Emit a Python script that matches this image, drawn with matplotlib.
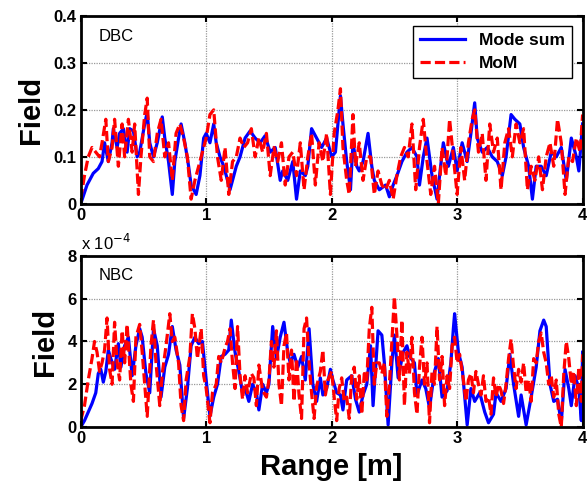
import numpy as np
import matplotlib
matplotlib.use('Agg')
import matplotlib.pyplot as plt

plt.rcParams['font.family'] = ['Liberation Sans', 'DejaVu Sans']

# DBC panel, Mode sum (blue)
dbc_ms_x = [0.00, 0.05, 0.10, 0.14, 0.17, 0.19, 0.22, 0.25, 0.26, 0.29, 0.31, 0.34, 0.37, 0.39,
            0.42, 0.45, 0.47, 0.51, 0.53, 0.55, 0.58, 0.61, 0.65, 0.67, 0.70, 0.73, 0.75, 0.78,
            0.80, 0.83, 0.86, 0.88, 0.92, 0.95, 0.98, 1.00, 1.03, 1.06, 1.08, 1.11, 1.14, 1.16,
            1.19, 1.22, 1.24, 1.27, 1.31, 1.35, 1.39, 1.43, 1.47, 1.51, 1.55, 1.59, 1.61, 1.65,
            1.69, 1.72, 1.75, 1.79, 1.81, 1.84, 1.88, 1.92, 1.96, 2.00, 2.03, 2.05, 2.07, 2.09,
            2.12, 2.15, 2.17, 2.20, 2.22, 2.25, 2.29, 2.32, 2.34, 2.38, 2.43, 2.46, 2.49, 2.52,
            2.56, 2.60, 2.64, 2.68, 2.70, 2.73, 2.76, 2.80, 2.84, 2.86, 2.89, 2.93, 2.97, 3.00,
            3.04, 3.08, 3.11, 3.14, 3.16, 3.20, 3.24, 3.28, 3.32, 3.36, 3.39, 3.43, 3.46, 3.50,
            3.53, 3.57, 3.60, 3.63, 3.67, 3.71, 3.75, 3.79, 3.83, 3.87, 3.91, 3.95, 3.97, 4.00]
dbc_ms_y = [0.000, 0.040, 0.065, 0.075, 0.090, 0.130, 0.090, 0.130, 0.160, 0.120, 0.150, 0.160,
            0.110, 0.160, 0.155, 0.100, 0.110, 0.170, 0.195, 0.130, 0.100, 0.130, 0.185, 0.140,
            0.090, 0.020, 0.090, 0.140, 0.170, 0.130, 0.080, 0.040, 0.020, 0.060, 0.140, 0.150,
            0.130, 0.170, 0.130, 0.100, 0.080, 0.060, 0.030, 0.060, 0.080, 0.100, 0.140, 0.155,
            0.140, 0.130, 0.145, 0.110, 0.120, 0.050, 0.070, 0.050, 0.090, 0.010, 0.070, 0.060,
            0.080, 0.160, 0.140, 0.120, 0.140, 0.100, 0.110, 0.170, 0.230, 0.170, 0.090, 0.030,
            0.130, 0.080, 0.070, 0.090, 0.150, 0.080, 0.050, 0.030, 0.040, 0.015, 0.040, 0.060,
            0.090, 0.110, 0.120, 0.100, 0.040, 0.100, 0.140, 0.060, 0.010, 0.060, 0.130, 0.080,
            0.120, 0.070, 0.130, 0.090, 0.150, 0.215, 0.140, 0.110, 0.120, 0.100, 0.090, 0.060,
            0.100, 0.190, 0.180, 0.170, 0.120, 0.080, 0.010, 0.080, 0.080, 0.060, 0.110, 0.100,
            0.120, 0.050, 0.140, 0.100, 0.070, 0.170]

# DBC panel, MoM (red dashed)
dbc_mom_x = [0.00, 0.03, 0.06, 0.09, 0.12, 0.15, 0.17, 0.20, 0.22, 0.25, 0.27, 0.30, 0.33, 0.35,
             0.38, 0.41, 0.43, 0.46, 0.48, 0.51, 0.53, 0.55, 0.58, 0.61, 0.64, 0.67, 0.70, 0.73,
             0.76, 0.79, 0.82, 0.85, 0.88, 0.91, 0.94, 0.97, 1.00, 1.03, 1.06, 1.09, 1.12, 1.15,
             1.18, 1.21, 1.24, 1.27, 1.30, 1.33, 1.36, 1.39, 1.42, 1.45, 1.48, 1.51, 1.54, 1.57,
             1.60, 1.63, 1.66, 1.69, 1.72, 1.75, 1.78, 1.81, 1.84, 1.87, 1.90, 1.93, 1.96, 1.99,
             2.02, 2.05, 2.07, 2.09, 2.12, 2.14, 2.17, 2.19, 2.22, 2.25, 2.28, 2.31, 2.34, 2.37,
             2.40, 2.43, 2.46, 2.49, 2.52, 2.55, 2.58, 2.61, 2.64, 2.67, 2.70, 2.73, 2.76, 2.79,
             2.82, 2.85, 2.88, 2.91, 2.94, 2.97, 3.00, 3.03, 3.06, 3.09, 3.12, 3.14, 3.17, 3.20,
             3.23, 3.26, 3.29, 3.32, 3.35, 3.38, 3.41, 3.44, 3.47, 3.50, 3.53, 3.56, 3.59, 3.62,
             3.65, 3.68, 3.71, 3.74, 3.77, 3.80, 3.83, 3.86, 3.89, 3.92, 3.95, 3.98, 4.00]
dbc_mom_y = [0.01, 0.06, 0.10, 0.12, 0.11, 0.10, 0.13, 0.18, 0.09, 0.12, 0.18, 0.08, 0.17, 0.10,
             0.18, 0.11, 0.17, 0.02, 0.10, 0.19, 0.225, 0.10, 0.09, 0.15, 0.18, 0.10, 0.13, 0.05,
             0.15, 0.17, 0.14, 0.10, 0.01, 0.05, 0.08, 0.11, 0.14, 0.19, 0.20, 0.10, 0.05, 0.12,
             0.02, 0.09, 0.10, 0.14, 0.12, 0.13, 0.16, 0.10, 0.14, 0.11, 0.15, 0.06, 0.12, 0.09,
             0.13, 0.04, 0.10, 0.11, 0.06, 0.13, 0.03, 0.10, 0.15, 0.04, 0.13, 0.09, 0.15, 0.02,
             0.15, 0.20, 0.245, 0.12, 0.05, 0.02, 0.19, 0.08, 0.13, 0.05, 0.10, 0.10, 0.02, 0.07,
             0.04, 0.03, 0.05, 0.01, 0.06, 0.10, 0.12, 0.10, 0.17, 0.03, 0.12, 0.18, 0.09, 0.02,
             0.08, 0.00, 0.12, 0.06, 0.18, 0.10, 0.02, 0.12, 0.05, 0.13, 0.18, 0.20, 0.11, 0.15,
             0.05, 0.17, 0.11, 0.14, 0.03, 0.13, 0.16, 0.10, 0.17, 0.13, 0.16, 0.03, 0.08, 0.05,
             0.10, 0.03, 0.10, 0.13, 0.08, 0.18, 0.13, 0.02, 0.10, 0.09, 0.14, 0.11, 0.19]

# NBC panel (values in units of 1e-4), Mode sum (blue)
nbc_ms_x = [0.00, 0.03, 0.06, 0.09, 0.12, 0.14, 0.16, 0.18, 0.20, 0.22, 0.24, 0.27, 0.30, 0.32,
            0.35, 0.38, 0.41, 0.44, 0.47, 0.49, 0.52, 0.55, 0.58, 0.61, 0.64, 0.67, 0.70, 0.73,
            0.76, 0.79, 0.82, 0.85, 0.88, 0.91, 0.94, 0.97, 1.00, 1.03, 1.06, 1.09, 1.12, 1.15,
            1.18, 1.20, 1.23, 1.26, 1.29, 1.31, 1.34, 1.37, 1.40, 1.42, 1.45, 1.48, 1.50, 1.53,
            1.56, 1.59, 1.62, 1.65, 1.67, 1.70, 1.73, 1.76, 1.79, 1.82, 1.85, 1.88, 1.91, 1.93,
            1.96, 1.99, 2.01, 2.04, 2.07, 2.09, 2.12, 2.16, 2.19, 2.22, 2.25, 2.28, 2.31, 2.33,
            2.37, 2.40, 2.42, 2.45, 2.48, 2.50, 2.53, 2.57, 2.60, 2.62, 2.66, 2.68, 2.72, 2.75,
            2.78, 2.82, 2.85, 2.88, 2.92, 2.95, 2.97, 2.98, 3.01, 3.04, 3.08, 3.11, 3.14, 3.18,
            3.22, 3.25, 3.29, 3.31, 3.35, 3.39, 3.42, 3.45, 3.49, 3.51, 3.55, 3.59, 3.63, 3.66,
            3.69, 3.71, 3.74, 3.77, 3.80, 3.83, 3.86, 3.89, 3.91, 3.94, 3.97, 3.99, 4.00]
nbc_ms_y = [0.0, 0.3, 0.7, 1.1, 1.6, 2.5, 2.7, 2.1, 2.6, 3.6, 3.2, 2.7, 3.9, 2.8,
            3.8, 4.2, 2.4, 3.8, 4.6, 4.2, 2.5, 1.6, 4.6, 3.8, 1.4, 2.8, 3.4, 4.7,
            3.6, 2.9, 0.4, 1.8, 3.8, 4.2, 3.9, 4.0, 2.2, 0.5, 1.4, 2.0, 3.3, 3.4,
            3.6, 5.0, 3.5, 2.6, 1.6, 1.8, 1.2, 2.0, 1.6, 0.8, 2.0, 1.6, 2.0, 4.7,
            3.2, 4.2, 4.9, 3.5, 3.0, 3.4, 2.8, 3.3, 2.2, 4.6, 2.0, 1.2, 2.3, 1.5,
            1.8, 2.7, 2.2, 1.6, 1.5, 0.8, 2.2, 2.4, 1.3, 0.7, 1.5, 2.0, 3.8, 1.0,
            4.5, 4.3, 3.0, 0.1, 3.0, 4.3, 2.3, 3.5, 3.8, 3.3, 3.0, 1.5, 2.2, 1.8,
            0.9, 2.6, 3.2, 1.4, 1.7, 3.0, 4.6, 5.3, 3.5, 2.8, 0.1, 1.8, 1.2, 1.6,
            0.7, 0.2, 0.6, 1.6, 1.2, 1.8, 3.4, 2.0, 0.5, 1.5, 0.1, 1.4, 2.8, 4.5,
            5.0, 4.7, 2.0, 1.2, 1.3, 0.2, 2.7, 1.8, 1.0, 2.4, 1.8, 0.3, 3.5]

# NBC panel (values in units of 1e-4), MoM (red dashed)
nbc_mom_x = [0.00, 0.03, 0.06, 0.09, 0.11, 0.13, 0.15, 0.17, 0.19, 0.21, 0.23, 0.25, 0.27, 0.29,
             0.31, 0.33, 0.35, 0.37, 0.40, 0.42, 0.44, 0.47, 0.49, 0.51, 0.53, 0.56, 0.58, 0.60,
             0.63, 0.65, 0.68, 0.71, 0.73, 0.75, 0.78, 0.80, 0.82, 0.84, 0.87, 0.89, 0.91, 0.93,
             0.96, 0.98, 1.00, 1.03, 1.05, 1.08, 1.10, 1.12, 1.15, 1.17, 1.19, 1.21, 1.23, 1.25,
             1.27, 1.29, 1.31, 1.33, 1.36, 1.38, 1.40, 1.42, 1.45, 1.48, 1.50, 1.52, 1.54, 1.56,
             1.58, 1.60, 1.62, 1.64, 1.66, 1.68, 1.70, 1.72, 1.74, 1.76, 1.78, 1.80, 1.82, 1.84,
             1.86, 1.88, 1.91, 1.93, 1.95, 1.97, 2.00, 2.02, 2.04, 2.06, 2.08, 2.10, 2.12, 2.14,
             2.16, 2.18, 2.20, 2.22, 2.24, 2.26, 2.28, 2.30, 2.32, 2.34, 2.36, 2.38, 2.40, 2.42,
             2.44, 2.46, 2.48, 2.50, 2.52, 2.54, 2.56, 2.58, 2.60, 2.62, 2.64, 2.66, 2.68, 2.70,
             2.72, 2.74, 2.76, 2.78, 2.80, 2.82, 2.84, 2.86, 2.88, 2.90, 2.92, 2.94, 2.96, 2.98,
             3.00, 3.02, 3.05, 3.07, 3.09, 3.11, 3.13, 3.15, 3.17, 3.19, 3.21, 3.23, 3.25, 3.27,
             3.29, 3.31, 3.33, 3.35, 3.37, 3.39, 3.41, 3.43, 3.45, 3.47, 3.49, 3.51, 3.53, 3.55,
             3.57, 3.59, 3.61, 3.63, 3.65, 3.67, 3.69, 3.71, 3.73, 3.75, 3.77, 3.79, 3.81, 3.83,
             3.85, 3.87, 3.89, 3.91, 3.93, 3.95, 3.97, 3.99, 4.00]
nbc_mom_y = [0.3, 1.0, 2.2, 3.2, 4.0, 3.5, 2.6, 3.0, 3.6, 5.1, 2.7, 2.0, 4.9, 3.0,
             2.2, 4.5, 3.0, 4.8, 2.0, 1.2, 4.2, 4.8, 3.5, 2.0, 0.5, 3.8, 5.0, 3.0,
             1.0, 2.5, 3.8, 5.3, 4.0, 4.2, 3.0, 1.0, 0.3, 2.2, 3.3, 5.3, 4.6, 3.2,
             4.6, 2.4, 1.8, 0.2, 1.6, 2.0, 3.3, 3.0, 3.7, 4.0, 4.6, 3.0, 1.8, 4.7,
             2.4, 1.3, 2.4, 1.6, 2.5, 2.3, 1.0, 2.9, 1.7, 1.4, 2.2, 4.0, 2.8, 4.5,
             2.0, 1.0, 3.8, 4.4, 2.2, 3.6, 1.2, 3.2, 1.5, 0.4, 4.6, 5.1, 3.0, 1.6,
             0.4, 1.9, 2.6, 3.6, 1.5, 2.2, 2.6, 1.4, 0.3, 1.8, 2.3, 1.2, 1.4, 0.4,
             2.4, 2.8, 1.3, 2.4, 0.6, 2.5, 2.2, 4.6, 5.6, 2.0, 3.0, 3.0, 2.5, 3.0,
             0.5, 2.0, 4.0, 6.1, 4.3, 2.2, 5.0, 1.0, 3.5, 2.5, 4.2, 1.6, 0.6, 2.8,
             4.2, 2.0, 3.0, 0.2, 2.6, 2.0, 4.7, 2.2, 3.3, 1.0, 2.4, 1.8, 3.8, 4.2,
             3.0, 3.4, 2.2, 1.2, 2.2, 2.5, 1.6, 2.6, 2.0, 1.5, 2.4, 1.2, 1.4, 0.6,
             2.3, 1.4, 2.0, 1.7, 1.1, 2.0, 3.2, 4.1, 2.8, 1.8, 2.7, 2.1, 3.0, 1.6,
             2.2, 1.2, 3.2, 3.0, 4.0, 4.4, 3.5, 3.0, 2.0, 2.4, 1.4, 2.2, 0.6, 0.0,
             2.5, 4.0, 3.2, 2.0, 2.6, 1.0, 2.8, 1.2, 3.4]

x_ticks = [0, 1, 2, 3, 4]
dbc_ticks = [0, 0.1, 0.2, 0.3, 0.4]
dbc_ticklabels = ['0', '0.1', '0.2', '0.3', '0.4']
nbc_ticks = [0, 2, 4, 6, 8]

fig = plt.figure(figsize=(5.87, 4.96), dpi=100)
ax1 = fig.add_axes([0.1375, 0.589, 0.855, 0.379])
ax2 = fig.add_axes([0.1375, 0.139, 0.855, 0.345])

for ax in (ax1, ax2):
    ax.grid(True, color='#999999', linestyle=(0, (1, 1)), linewidth=0.9)
    ax.set_xlim(0, 4)
    ax.set_xticks(x_ticks)
    ax.tick_params(direction='in', top=True, right=True, length=4, width=1.5,
                   labelsize=12, pad=3)
    for lab in ax.get_xticklabels() + ax.get_yticklabels():
        lab.set_fontweight('bold')
    for sp in ax.spines.values():
        sp.set_linewidth(2)

ax1.plot(dbc_ms_x, dbc_ms_y, color='#0000ff', lw=2.3, label='Mode sum')
ax1.plot(dbc_mom_x, dbc_mom_y, color='#ff0000', lw=2.3, ls=(0, (3.2, 1.3)), label='MoM')
ax1.set_ylim(0, 0.4)
ax1.set_yticks(dbc_ticks)
ax1.set_yticklabels(dbc_ticklabels, fontweight='bold')
ax1.text(0.035, 0.93, 'DBC', transform=ax1.transAxes, fontsize=12, va='top')
ax1.set_ylabel('Field', fontsize=21, fontweight='bold', labelpad=6)
leg = ax1.legend(loc='upper right', fancybox=False, edgecolor='black', framealpha=1,
                 prop={'weight': 'bold', 'size': 12.5}, handlelength=2.6,
                 borderaxespad=0.6, labelspacing=0.45)
leg.get_frame().set_linewidth(1.0)

ax2.plot(nbc_ms_x, nbc_ms_y, color='#0000ff', lw=2.3)
ax2.plot(nbc_mom_x, nbc_mom_y, color='#ff0000', lw=2.3, ls=(0, (3.2, 1.3)))
ax2.set_ylim(0, 8)
ax2.set_yticks(nbc_ticks)
ax2.set_yticklabels([str(t) for t in nbc_ticks], fontweight='bold')
ax2.text(0.035, 0.93, 'NBC', transform=ax2.transAxes, fontsize=12, va='top')
ax2.text(0.0, 1.02, r'x 10$^{-4}$', transform=ax2.transAxes, fontsize=12, va='bottom')
ax2.set_ylabel('Field', fontsize=21, fontweight='bold', labelpad=6)
ax2.set_xlabel('Range [m]', fontsize=21, fontweight='bold', labelpad=5)

fig.savefig('out.png', dpi=100)
